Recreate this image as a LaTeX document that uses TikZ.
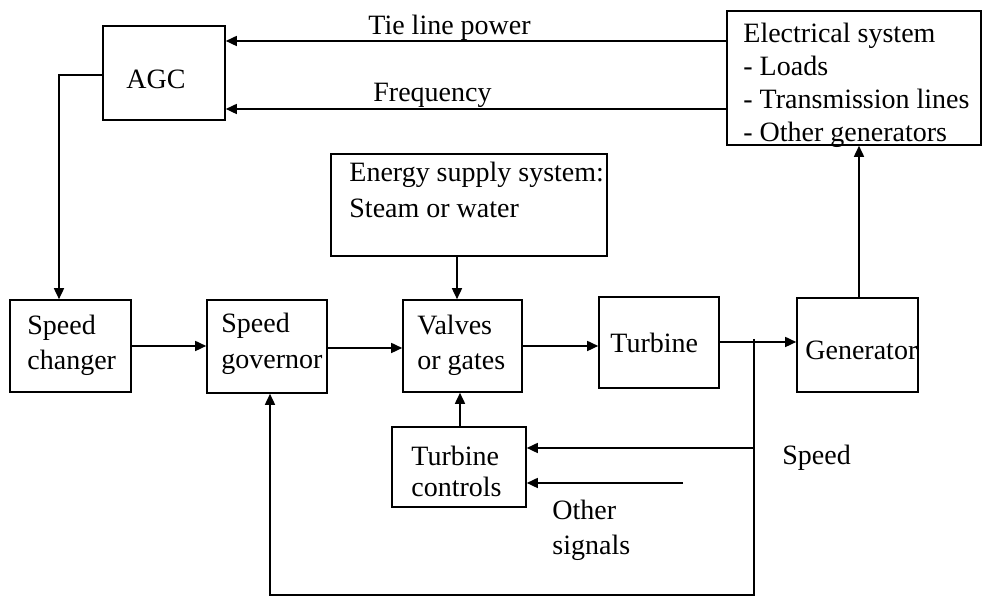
\documentclass[tikz,border=0pt]{standalone}
\usepackage{fontspec}
\setmainfont{Liberation Serif}
\usetikzlibrary{arrows.meta,fit}
\begin{document}
\begin{tikzpicture}[x=0.5pt,y=-0.5pt,
  box/.style={draw,line width=0.8pt,inner sep=0pt},
  lbl/.style={anchor=base west,inner sep=0pt,font=\fontsize{14}{16}\selectfont},
  conn/.style={line width=0.8pt},
  arr/.style={line width=0.8pt,-{Triangle[length=5.5pt,width=5pt]}}]
\useasboundingbox (0,0) rectangle (982,597);
% boxes
\node[box,fit={(103,26) (225,120)}] (agc) {};
\node[box,fit={(727,11) (981,145)}] (elec) {};
\node[box,fit={(331,154) (607,256)}] (energy) {};
\node[box,fit={(10,300) (131,392)}] (changer) {};
\node[box,fit={(207,300) (327,393)}] (gov) {};
\node[box,fit={(403,300) (522,392)}] (valves) {};
\node[box,fit={(599,297) (719,388)}] (turb) {};
\node[box,fit={(797,298) (918,392)}] (gen) {};
\node[box,fit={(392,427) (526,507)}] (tc) {};
% texts
\node[lbl] (tagc) at (126,89) {AGC};
\node[lbl] (ttie) at (368,35) {Tie line power};
\node[lbl] (tfreq) at (373,102) {Frequency};
\node[lbl] (te1) at (743,43) {Electrical system};
\node[lbl] (te2) at (743,76) {- Loads};
\node[lbl] (te3) at (743,109) {- Transmission lines};
\node[lbl] (te4) at (743,142) {- Other generators};
\node[lbl] (ten1) at (349,182) {Energy supply system:};
\node[lbl] (ten2) at (349,218) {Steam or water};
\node[lbl] (tsc1) at (27,335) {Speed};
\node[lbl] (tsc2) at (27,370) {changer};
\node[lbl] (tsg1) at (221,333) {Speed};
\node[lbl] (tsg2) at (221,369) {governor};
\node[lbl] (tv1) at (417,335) {Valves};
\node[lbl] (tv2) at (417,370) {or gates};
\node[lbl] (tt) at (610,353) {Turbine};
\node[lbl] (tg) at (805,360) {Generator};
\node[lbl] (ttc1) at (411,466) {Turbine};
\node[lbl] (ttc2) at (411,497) {controls};
\node[lbl] (tspeed) at (782,465) {Speed};
\node[lbl] (tos1) at (552,520) {Other};
\node[lbl] (tos2) at (552,555) {signals};
% coordinates
\coordinate (tap) at (754,339);
\coordinate (corner) at (754,595);
\coordinate (other) at (683,483);
% connectors
\draw[arr] (elec.west |- 0,41) -- (agc.east |- 0,41);
\draw[arr] (elec.west |- 0,109) -- (agc.east |- 0,109);
\draw[arr] (agc.west |- 0,75) -| (changer.north -| 59,0);
\draw[arr] (changer.east |- 0,346) -- (gov.west |- 0,346);
\draw[arr] (gov.east |- 0,348) -- (valves.west |- 0,348);
\draw[arr] (energy.south -| 457,0) -- (valves.north -| 457,0);
\draw[arr] (valves.east |- 0,346) -- (turb.west |- 0,346);
\draw[arr] (turb.east |- 0,342) -- (gen.west |- 0,342);
\draw[arr] (gen.north -| 859,0) -- (elec.south -| 859,0);
\draw[arr] (tap) -- (corner) -| (gov.south -| 270,0);
\draw[arr] (tap |- 0,448) -- (tc.east |- 0,448);
\draw[arr] (other) -- (tc.east |- other);
\draw[arr] (tc.north -| 460,0) -- (valves.south -| 460,0);
\end{tikzpicture}
\end{document}
